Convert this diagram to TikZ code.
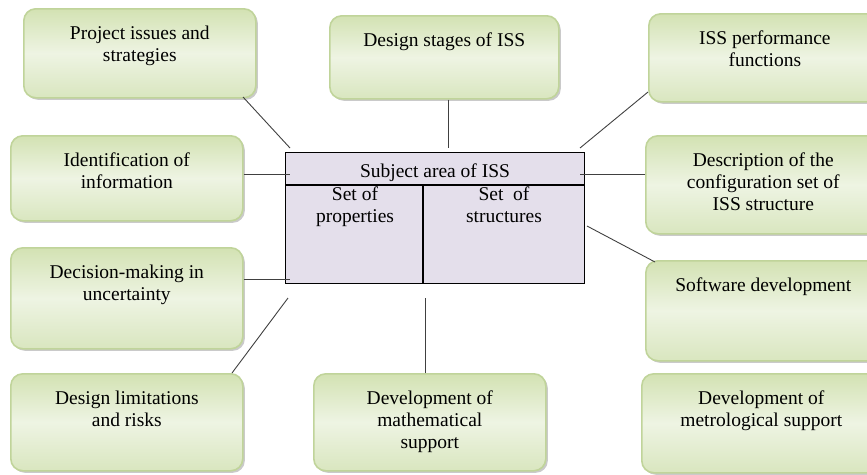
\documentclass[tikz,border=0pt]{standalone}
\usepackage{fontspec}
\setmainfont{Liberation Serif}
\usetikzlibrary{shadows,calc}
\definecolor{gtop}{HTML}{D3E2B3}
\definecolor{gmid}{HTML}{EEF4E3}
\definecolor{gbot}{HTML}{D9E6BF}
\definecolor{gline}{HTML}{C0D49A}
\definecolor{lav}{HTML}{E4DFEB}
\tikzset{
  gbox/.style={draw=gline, line width=1.6pt, rounded corners=12pt,
    top color=gtop, bottom color=gbot, middle color=gmid,
    drop shadow={shadow xshift=2pt, shadow yshift=-2pt, opacity=0.35, fill=black!60},
    inner sep=0pt},
  btext/.style={anchor=north, inner sep=0pt, align=center, font=\fontsize{19.5}{22}\selectfont},
  ctext/.style={inner sep=0pt, align=center, font=\fontsize{19.5}{22}\selectfont},
  conn/.style={draw=black!75, line width=0.9pt}
}
\newcommand\ibox[6]{%
  \node[gbox, minimum width={#4-#2}, minimum height={#5-#3}, anchor=north west] (#1) at (#2,#3) {};
  \node[btext] (#1t) at ($(#1.north)+(0,18)$) {#6};
}
\begin{document}
\begin{tikzpicture}[x=1pt,y=-1pt]
\useasboundingbox (0,0) rectangle (867,474);
\ibox{b1}{23}{8}{255}{97}{Project issues and\\strategies}
\ibox{b2}{329}{15}{558}{98}{Design stages of ISS}
\ibox{b3}{648}{13}{880}{101}{ISS performance\\functions}
\ibox{b4}{10}{135}{242}{220}{Identification of\\information}
\ibox{b5}{645}{135}{880}{233}{Description of the\\configuration set of\\ISS structure}
\ibox{b6}{10}{247}{242}{348}{Decision-making in\\uncertainty}
\ibox{b7}{645}{260}{880}{360}{Software development}
\ibox{b8}{10}{373}{242}{470}{Design limitations\\and risks}
\ibox{b9}{313}{373}{545}{470}{Development of\\mathematical\\support}
\ibox{b10}{641}{373}{880}{472}{Development of\\metrological support}
% central box
\node[draw=black, line width=1.2pt, fill=lav, minimum width=299, minimum height=131, anchor=north west, inner sep=0pt] (c) at (285,152) {};
\coordinate (hl) at (285,185);
\coordinate (hr) at (584,185);
\coordinate (vt) at (423,185);
\coordinate (vb) at (423,283);
\draw[line width=1.2pt] (hl) -- (hr);
\draw[line width=1.2pt] (vt) -- (vb);
\node[ctext] (ct) at (435,173) {Subject area of ISS};
\node[ctext, anchor=north] (cl) at (355,187) {Set of\\properties};
\node[ctext, anchor=north] (cr) at (504,187) {Set~ of\\structures};
% connector ends
\coordinate (e1) at (290,148);
\coordinate (e2) at (448,148);
\coordinate (e3) at (580,148);
\coordinate (e4) at (290,174);
\coordinate (e5) at (580,174);
\coordinate (e6) at (290,279);
\coordinate (e7) at (587,226);
\coordinate (e8) at (288,298);
\coordinate (e9) at (425,298);
\coordinate (s1) at (243,97);
\coordinate (s3) at (648,92);
\coordinate (s7) at (655,262);
\coordinate (s8) at (232,373);
\draw[conn] (s1) -- (e1);
\draw[conn] (b2.south -| e2) -- (e2);
\draw[conn] (s3) -- (e3);
\draw[conn] (b4.east |- e4) -- (e4);
\draw[conn] (b5.west |- e5) -- (e5);
\draw[conn] (b6.east |- e6) -- (e6);
\draw[conn] (s7) -- (e7);
\draw[conn] (s8) -- (e8);
\draw[conn] (b9.north -| e9) -- (e9);
\end{tikzpicture}
\end{document}
